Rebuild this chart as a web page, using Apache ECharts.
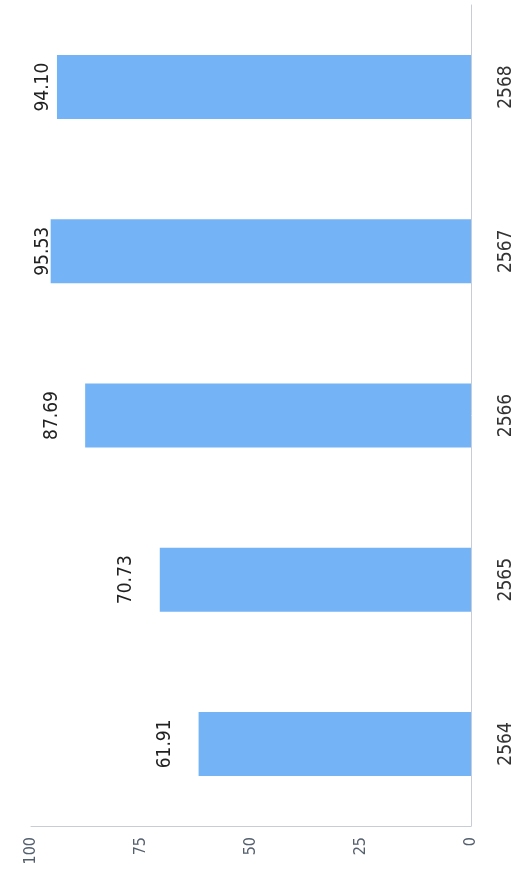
<!DOCTYPE html>
<html>
<head>
<meta charset="utf-8">
<script src="https://cdn.jsdelivr.net/npm/echarts@6/dist/echarts.min.js"></script>
<style>
html,body{margin:0;padding:0;background:#fff;}
#chart{width:524px;height:887px;}
</style>
</head>
<body>
<div id="chart"></div>
<script>
const categories = ['2564', '2565', '2566', '2567', '2568'];
const values = [61.91, 70.73, 87.69, 95.53, 94.10];
const valueLabels = ['61.91', '70.73', '87.69', '95.53', '94.10'];
const tickMin = 0, tickMax = 100, tickStep = 25;

const FONT = '"DejaVu Sans Condensed", "Liberation Sans Narrow", sans-serif';
const chart = echarts.init(document.getElementById('chart'));
chart.setOption({
  animation: false,
  backgroundColor: '#ffffff',
  grid: { left: 31, right: 53, top: 5, bottom: 61, containLabel: false },
  xAxis: {
    type: 'value', inverse: true, position: 'bottom',
    min: tickMin, max: tickMax, interval: tickStep,
    axisLine: { show: true, lineStyle: { color: '#c8ccd4', width: 1 } },
    axisTick: { show: false },
    splitLine: { show: false },
    axisLabel: { rotate: 90, color: '#55606e', fontSize: 16, fontFamily: FONT, margin: 11 }
  },
  yAxis: {
    type: 'category', position: 'right', data: categories,
    axisLine: { show: true, lineStyle: { color: '#c8ccd4', width: 1 } },
    axisTick: { show: false },
    axisLabel: { rotate: 90, color: '#333', fontSize: 19, fontFamily: FONT, margin: 26 }
  },
  series: [{
    type: 'bar',
    data: values,
    barWidth: 64,
    itemStyle: { color: '#74b3f5' },
    label: {
      show: true, position: 'left', distance: 24, rotate: 90,
      align: 'center', verticalAlign: 'bottom',
      formatter: p => valueLabels[p.dataIndex],
      color: '#222', fontSize: 19, fontFamily: FONT
    },
    labelLayout: function (params) {
      const r = params.labelRect;
      if (r.x < 34) return { dy: 34 - r.x };
      return {};
    }
  }]
});
</script>
</body>
</html>
